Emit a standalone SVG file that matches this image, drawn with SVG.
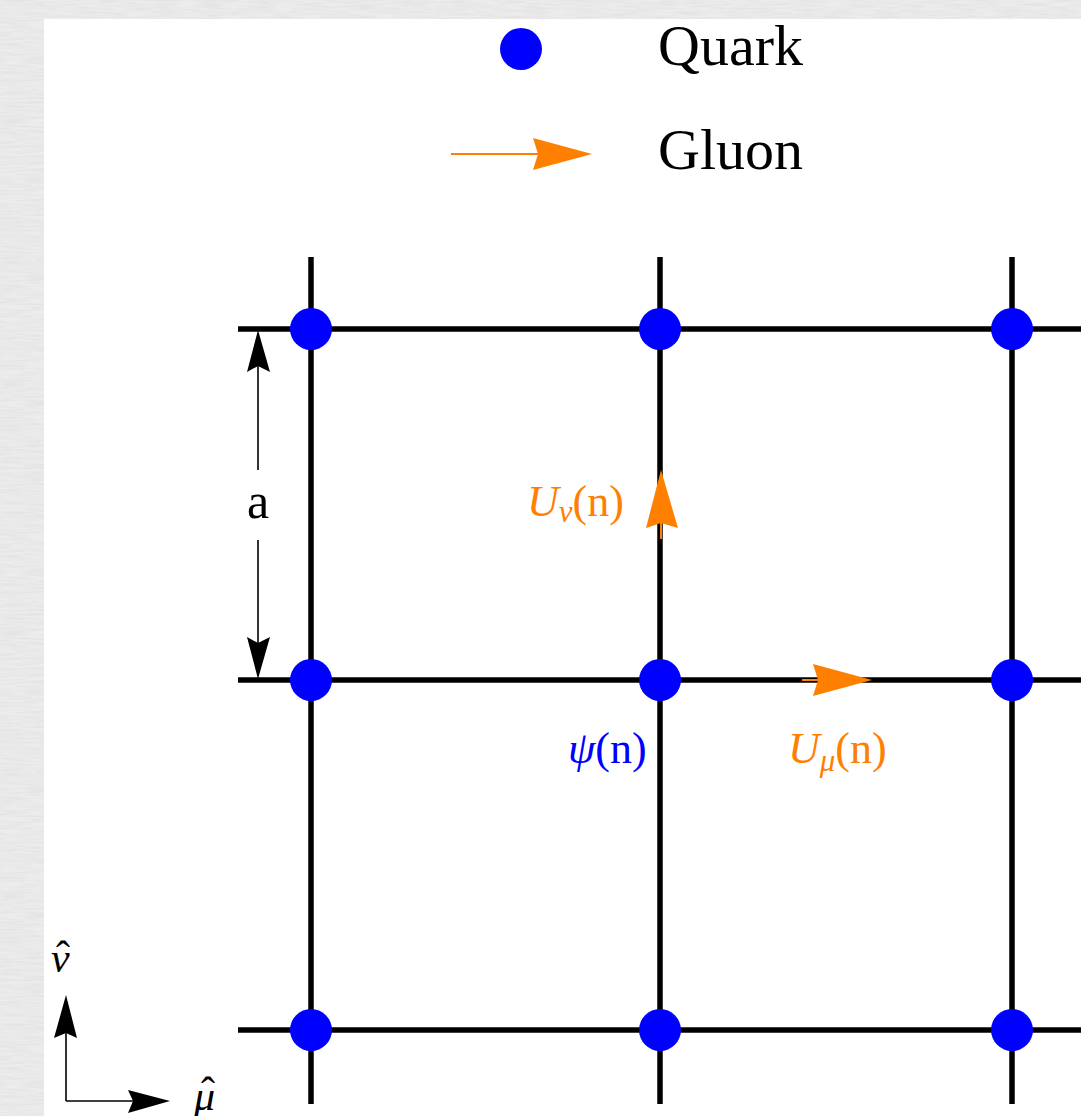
<svg xmlns="http://www.w3.org/2000/svg" width="1081" height="1116" viewBox="0 0 1081 1116">
<defs>
<style>
.grid{stroke:#000;stroke-width:5.5;fill:none}
.dot{fill:#0000ff}
.thin{stroke:#000;stroke-width:1.6;fill:none}
.othin{stroke:#ff8000;stroke-width:2;fill:none}
.head{fill:#000}
.ohead{fill:#ff8000}
.t{font-family:"Liberation Serif","Times New Roman",serif}
.it{font-style:italic}
</style>
<filter id="paper" x="0" y="0" width="100%" height="100%">
<feTurbulence type="fractalNoise" baseFrequency="0.04 0.5" numOctaves="3" seed="4"/>
<feColorMatrix type="matrix" values="0 0 0 0 0.55  0 0 0 0 0.55  0 0 0 0 0.55  0 0 0 -1.1 0.75"/>
</filter>
</defs>
<rect x="0" y="0" width="1081" height="1116" fill="#ececec"/>
<rect x="0" y="0" width="1081" height="1116" filter="url(#paper)" opacity="0.4"/>
<rect x="44" y="19" width="1037" height="1097" fill="#ffffff"/>

<g id="legend">
<circle class="dot" cx="521" cy="49" r="21"/>
<text class="t" x="658" y="65" font-size="58">Quark</text>
<line class="othin" x1="451" y1="154" x2="540" y2="154"/>
<path class="ohead" d="M592,154 L533,170 L538,154 L533,138 Z"/>
<text class="t" x="658" y="169" font-size="58">Gluon</text>
</g>

<g id="connectors">
<line class="grid" x1="238" y1="329" x2="1081" y2="329"/>
<line class="grid" x1="238" y1="680" x2="1081" y2="680"/>
<line class="grid" x1="238" y1="1030" x2="1081" y2="1030"/>
<line class="grid" x1="311" y1="257" x2="311" y2="1104"/>
<line class="grid" x1="660" y1="257" x2="660" y2="1104"/>
<line class="grid" x1="1012" y1="257" x2="1012" y2="1104"/>
</g>

<g id="dimension-a">
<line class="thin" x1="258" y1="365" x2="258" y2="470"/>
<path class="head" d="M258,330 L270,372 L258,366 L247,372 Z"/>
<line class="thin" x1="258" y1="540" x2="258" y2="644"/>
<path class="head" d="M258,679 L270,637 L258,643 L247,637 Z"/>
<text class="t" x="258" y="518" font-size="50" text-anchor="middle">a</text>
</g>

<g id="nodes">
<g id="n00"><circle class="dot" cx="311" cy="329" r="21"/></g>
<g id="n10"><circle class="dot" cx="660" cy="329" r="21"/></g>
<g id="n20"><circle class="dot" cx="1012" cy="329" r="21"/></g>
<g id="n01"><circle class="dot" cx="311" cy="680" r="21"/></g>
<g id="n11"><circle class="dot" cx="660" cy="680" r="21"/></g>
<g id="n21"><circle class="dot" cx="1012" cy="680" r="21"/></g>
<g id="n02"><circle class="dot" cx="311" cy="1030" r="21"/></g>
<g id="n12"><circle class="dot" cx="660" cy="1030" r="21"/></g>
<g id="n22"><circle class="dot" cx="1012" cy="1030" r="21"/></g>
</g>

<g id="link-nu">
<line class="othin" x1="661" y1="520" x2="661" y2="539"/>
<path class="ohead" d="M661,470 L678,528 L661,523 L646,528 Z"/>
<text class="t" x="527" y="516" font-size="44" fill="#ff8000"><tspan class="it">U</tspan><tspan class="it" font-size="31" dy="6">ν</tspan><tspan dy="-6">(n)</tspan></text>
</g>

<g id="link-mu">
<line class="othin" x1="802" y1="680" x2="822" y2="680"/>
<path class="ohead" d="M872,680 L813,696 L818,680 L813,664 Z"/>
<text class="t" x="788" y="763" font-size="44" fill="#ff8000"><tspan class="it">U</tspan><tspan class="it" font-size="31" dy="8">μ</tspan><tspan dy="-8">(n)</tspan></text>
</g>

<g id="psi-label">
<text class="t" x="568" y="763" font-size="44" fill="#0000ff"><tspan class="it">ψ</tspan>(n)</text>
</g>

<g id="axes">
<line class="thin" x1="66" y1="1030" x2="66" y2="1101"/>
<line class="thin" x1="66" y1="1101" x2="135" y2="1101"/>
<path class="head" d="M66,995 L77,1038 L66,1033 L54,1038 Z"/>
<path class="head" d="M170,1101 L128,1113 L133,1101 L128,1090 Z"/>
<text class="t" x="51" y="972" font-size="42"><tspan class="it">ν</tspan><tspan x="56" y="970">ˆ</tspan></text>
<text class="t" x="194" y="1110" font-size="42"><tspan class="it">μ</tspan><tspan x="201" y="1106">ˆ</tspan></text>
</g>
</svg>
